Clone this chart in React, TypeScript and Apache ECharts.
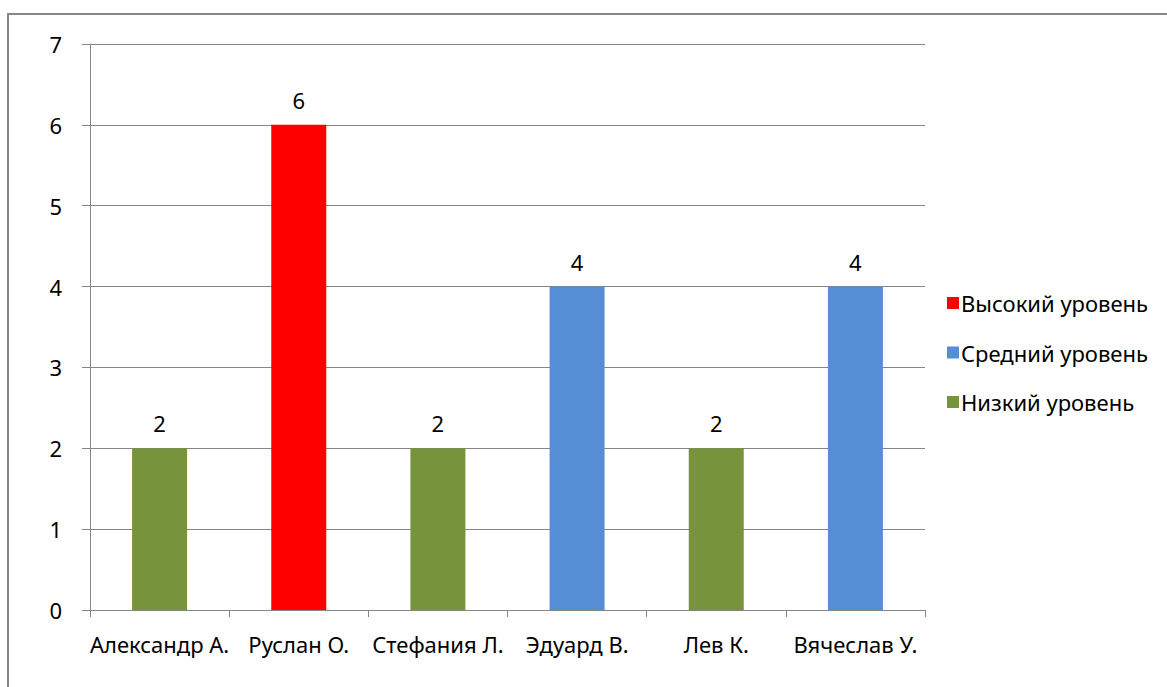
import React, { useEffect, useRef } from "react";
import * as echarts from "echarts";

const categories = ["Александр А.", "Руслан О.", "Стефания Л.", "Эдуард В.", "Лев К.", "Вячеслав У."];
const highLevel = [null, 6, null, null, null, null];
const midLevel = [null, null, null, 4, null, 4];
const lowLevel = [2, null, 2, null, 2, null];
const yTicks = { min: 0, max: 7, interval: 1 };

const FONT = "'Noto Sans', sans-serif";
const AXIS_GRAY = "#868686";
const FS = 22;

export default function App() {
  const ref = useRef<HTMLDivElement>(null);

  useEffect(() => {
    if (!ref.current) return;
    const chart = echarts.init(ref.current, null, { renderer: "svg" });

    const label = {
      show: true,
      position: "top" as const,
      distance: 14,
      color: "#000",
      fontFamily: FONT,
      fontSize: FS,
    };

    const makeSeries = (name: string, data: (number | null)[], color: string) => ({
      name,
      type: "bar" as const,
      stack: "level",
      data,
      barWidth: 55,
      itemStyle: { color },
      label,
    });

    chart.setOption({
      animation: false,
      backgroundColor: "#fff",
      textStyle: { fontFamily: FONT },
      grid: { left: 90, right: 242, top: 44, bottom: 77, containLabel: false },
      legend: {
        orient: "vertical",
        left: 942,
        top: 287,
        itemGap: 27.5,
        itemWidth: 12,
        itemHeight: 12,
        icon: "rect",
        textStyle: {
          fontFamily: FONT,
          fontSize: FS,
          lineHeight: 22,
          color: "#000",
          padding: [0, 0, 0, -3],
        },
        data: ["Высокий уровень", "Средний уровень", "Низкий уровень"],
      },
      xAxis: {
        type: "category",
        data: categories,
        axisLine: { lineStyle: { color: AXIS_GRAY, width: 1 } },
        axisTick: { show: true, length: 7, alignWithLabel: false, lineStyle: { color: AXIS_GRAY } },
        axisLabel: { color: "#000", fontFamily: FONT, fontSize: FS, margin: 23, interval: 0 },
      },
      yAxis: {
        type: "value",
        min: yTicks.min,
        max: yTicks.max,
        interval: yTicks.interval,
        axisLine: { show: true, lineStyle: { color: AXIS_GRAY, width: 1 } },
        axisTick: { show: true, length: 8, lineStyle: { color: AXIS_GRAY } },
        axisLabel: { color: "#000", fontFamily: FONT, fontSize: FS, margin: 28 },
        splitLine: { lineStyle: { color: AXIS_GRAY, width: 1 } },
      },
      graphic: [
        {
          type: "rect",
          silent: true,
          shape: { x: 8, y: 14, width: 1200, height: 800 },
          style: { fill: "none", stroke: AXIS_GRAY, lineWidth: 2 },
        },
      ],
      series: [
        makeSeries("Высокий уровень", highLevel, "#FF0000"),
        makeSeries("Средний уровень", midLevel, "#558ED5"),
        makeSeries("Низкий уровень", lowLevel, "#77933C"),
      ],
    });

    return () => chart.dispose();
  }, []);

  return (
    <div
      ref={ref}
      style={{ position: "fixed", left: 0, top: 0, width: 1167, height: 687 }}
    />
  );
}
